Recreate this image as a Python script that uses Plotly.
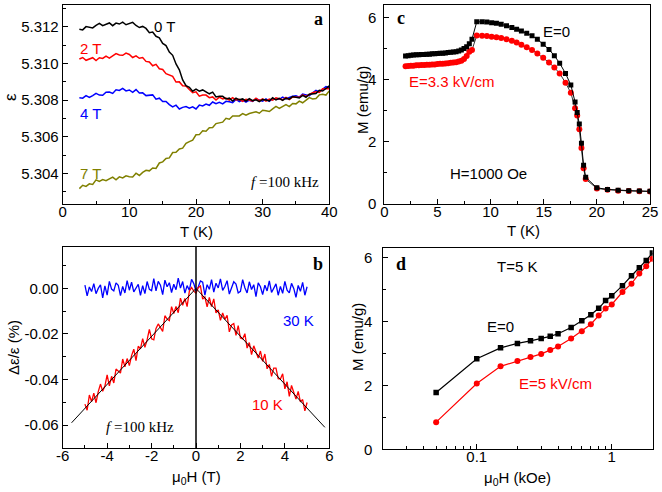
import plotly.graph_objects as go
from plotly.subplots import make_subplots

# ---- (a) dielectric constant vs T at several fields ----
T_A = [2.5, 3.0, 3.5, 4.0, 4.5, 5.0, 5.5, 6.0, 6.5, 7.0,
       7.5, 8.0, 8.5, 9.0, 9.5, 10.0, 10.5, 11.0, 11.5, 12.0,
       12.5, 13.0, 13.5, 14.0, 14.5, 15.0, 15.5, 16.0, 16.5, 17.0,
       17.5, 18.0, 18.5, 19.0, 19.5, 20.0, 20.5, 21.0, 21.5, 22.0,
       22.5, 23.0, 23.5, 24.0, 24.5, 25.0, 25.5, 26.0, 26.5, 27.0,
       27.5, 28.0, 28.5, 29.0, 29.5, 30.0, 30.5, 31.0, 31.5, 32.0,
       32.5, 33.0, 33.5, 34.0, 34.5, 35.0, 35.5, 36.0, 36.5, 37.0,
       37.5, 38.0, 38.5, 39.0, 39.5, 40.0]
EPS_0T = [5.31188, 5.31184, 5.31202, 5.31200, 5.31195, 5.31209, 5.31220, 5.31207, 5.31214, 5.31222,
          5.31207, 5.31221, 5.31216, 5.31226, 5.31212, 5.31218, 5.31225, 5.31208, 5.31197, 5.31203,
          5.31192, 5.31169, 5.31172, 5.31149, 5.31141, 5.31110, 5.31098, 5.31063, 5.31045, 5.30998,
          5.30966, 5.30911, 5.30879, 5.30870, 5.30849, 5.30860, 5.30849, 5.30856, 5.30846, 5.30835,
          5.30844, 5.30818, 5.30822, 5.30821, 5.30807, 5.30811, 5.30795, 5.30811, 5.30802, 5.30807,
          5.30795, 5.30809, 5.30797, 5.30802, 5.30792, 5.30804, 5.30801, 5.30796, 5.30813, 5.30801,
          5.30810, 5.30799, 5.30811, 5.30806, 5.30820, 5.30815, 5.30812, 5.30826, 5.30816, 5.30833,
          5.30836, 5.30837, 5.30854, 5.30850, 5.30864, 5.30878]
EPS_2T = [5.31025, 5.31033, 5.31018, 5.31024, 5.31032, 5.31017, 5.31032, 5.31028, 5.31041, 5.31030,
          5.31041, 5.31055, 5.31047, 5.31045, 5.31057, 5.31050, 5.31033, 5.31042, 5.31029, 5.31033,
          5.31012, 5.31009, 5.30988, 5.30996, 5.30972, 5.30968, 5.30945, 5.30938, 5.30930, 5.30899,
          5.30900, 5.30879, 5.30877, 5.30858, 5.30841, 5.30846, 5.30822, 5.30828, 5.30828, 5.30814,
          5.30818, 5.30801, 5.30817, 5.30807, 5.30812, 5.30800, 5.30814, 5.30801, 5.30805, 5.30794,
          5.30805, 5.30801, 5.30795, 5.30811, 5.30798, 5.30807, 5.30795, 5.30806, 5.30800, 5.30813,
          5.30806, 5.30802, 5.30815, 5.30803, 5.30818, 5.30818, 5.30816, 5.30829, 5.30821, 5.30831,
          5.30841, 5.30846, 5.30842, 5.30862, 5.30863, 5.30863]
EPS_4T = [5.30813, 5.30811, 5.30825, 5.30815, 5.30825, 5.30837, 5.30828, 5.30827, 5.30844, 5.30845,
          5.30837, 5.30857, 5.30853, 5.30864, 5.30851, 5.30856, 5.30843, 5.30858, 5.30839, 5.30840,
          5.30825, 5.30827, 5.30829, 5.30806, 5.30811, 5.30793, 5.30793, 5.30776, 5.30763, 5.30773,
          5.30752, 5.30761, 5.30765, 5.30756, 5.30764, 5.30752, 5.30773, 5.30769, 5.30779, 5.30772,
          5.30790, 5.30781, 5.30788, 5.30780, 5.30794, 5.30792, 5.30787, 5.30804, 5.30792, 5.30801,
          5.30789, 5.30800, 5.30794, 5.30807, 5.30800, 5.30795, 5.30807, 5.30794, 5.30808, 5.30808,
          5.30805, 5.30817, 5.30807, 5.30815, 5.30822, 5.30824, 5.30817, 5.30833, 5.30830, 5.30825,
          5.30840, 5.30854, 5.30845, 5.30858, 5.30874, 5.30869]
EPS_7T = [5.30317, 5.30335, 5.30329, 5.30343, 5.30340, 5.30365, 5.30356, 5.30366, 5.30360, 5.30370,
          5.30380, 5.30365, 5.30381, 5.30375, 5.30387, 5.30382, 5.30381, 5.30401, 5.30389, 5.30406,
          5.30417, 5.30414, 5.30430, 5.30427, 5.30457, 5.30463, 5.30482, 5.30485, 5.30514, 5.30515,
          5.30534, 5.30538, 5.30564, 5.30574, 5.30582, 5.30611, 5.30612, 5.30633, 5.30630, 5.30649,
          5.30651, 5.30672, 5.30675, 5.30680, 5.30701, 5.30696, 5.30714, 5.30716, 5.30714, 5.30727,
          5.30718, 5.30727, 5.30734, 5.30737, 5.30729, 5.30745, 5.30742, 5.30738, 5.30753, 5.30766,
          5.30755, 5.30765, 5.30776, 5.30765, 5.30782, 5.30780, 5.30795, 5.30786, 5.30799, 5.30814,
          5.30807, 5.30809, 5.30829, 5.30833, 5.30828, 5.30851]

# ---- (b) magnetodielectric effect, d(eps)/eps in % ----
H_B = [-5.0, -4.9, -4.8, -4.7, -4.6, -4.5, -4.4, -4.3, -4.2, -4.1,
       -4.0, -3.9, -3.8, -3.7, -3.6, -3.5, -3.4, -3.3, -3.2, -3.1,
       -3.0, -2.9, -2.8, -2.7, -2.6, -2.5, -2.4, -2.3, -2.2, -2.1,
       -2.0, -1.9, -1.8, -1.7, -1.6, -1.5, -1.4, -1.3, -1.2, -1.1,
       -1.0, -0.9, -0.8, -0.7, -0.6, -0.5, -0.4, -0.3, -0.2, -0.1,
       0.0, 0.1, 0.2, 0.3, 0.4, 0.5, 0.6, 0.7, 0.8, 0.9,
       1.0, 1.1, 1.2, 1.3, 1.4, 1.5, 1.6, 1.7, 1.8, 1.9,
       2.0, 2.1, 2.2, 2.3, 2.4, 2.5, 2.6, 2.7, 2.8, 2.9,
       3.0, 3.1, 3.2, 3.3, 3.4, 3.5, 3.6, 3.7, 3.8, 3.9,
       4.0, 4.1, 4.2, 4.3, 4.4, 4.5, 4.6, 4.7, 4.8, 4.9,
       5.0]
D_30K = [0.0014, -0.0033, 0.0006, -0.0014, 0.0021, -0.0023, 0.0000, 0.0016, -0.0042, 0.0011,
         -0.0030, 0.0031, -0.0003, -0.0011, 0.0024, 0.0014, -0.0032, 0.0009, -0.0020, 0.0034,
         -0.0008, 0.0027, -0.0015, 0.0001, 0.0018, -0.0031, 0.0012, -0.0023, 0.0030, -0.0004,
         -0.0010, 0.0043, -0.0011, 0.0031, 0.0014, -0.0027, 0.0036, 0.0007, 0.0025, -0.0018,
         0.0018, -0.0006, 0.0045, 0.0001, 0.0030, -0.0021, 0.0012, -0.0008, 0.0040, 0.0021,
         -0.0013, 0.0006, 0.0033, 0.0027, -0.0030, 0.0016, -0.0004, 0.0038, -0.0016, 0.0023,
         0.0002, 0.0042, -0.0009, 0.0008, 0.0034, -0.0025, -0.0001, 0.0029, 0.0019, -0.0020,
         -0.0013, 0.0038, 0.0003, -0.0020, 0.0029, -0.0005, 0.0016, -0.0036, 0.0024, 0.0007,
         -0.0027, 0.0014, -0.0011, 0.0033, -0.0018, 0.0002, 0.0020, -0.0030, 0.0009, -0.0022,
         0.0031, -0.0008, -0.0020, 0.0022, 0.0000, -0.0039, 0.0013, -0.0013, 0.0026, -0.0030,
         0.0007]
D_10K = [-0.0508, -0.0535, -0.0468, -0.0497, -0.0460, -0.0502, -0.0453, -0.0420, -0.0452, -0.0429,
         -0.0380, -0.0428, -0.0386, -0.0415, -0.0354, -0.0362, -0.0372, -0.0310, -0.0344, -0.0308,
         -0.0339, -0.0295, -0.0267, -0.0317, -0.0254, -0.0265, -0.0221, -0.0259, -0.0226, -0.0180,
         -0.0221, -0.0226, -0.0176, -0.0156, -0.0175, -0.0189, -0.0120, -0.0135, -0.0142, -0.0080,
         -0.0110, -0.0079, -0.0107, -0.0043, -0.0074, -0.0044, -0.0080, -0.0012, 0.0004, -0.0012,
         -0.0021, 0.0003, 0.0011, -0.0047, -0.0038, -0.0081, -0.0040, -0.0080, -0.0046, -0.0108,
         -0.0094, -0.0140, -0.0108, -0.0136, -0.0118, -0.0191, -0.0160, -0.0154, -0.0206, -0.0163,
         -0.0218, -0.0222, -0.0199, -0.0262, -0.0238, -0.0291, -0.0252, -0.0280, -0.0306, -0.0275,
         -0.0320, -0.0288, -0.0353, -0.0334, -0.0386, -0.0350, -0.0350, -0.0396, -0.0398, -0.0375,
         -0.0441, -0.0410, -0.0474, -0.0426, -0.0453, -0.0486, -0.0452, -0.0498, -0.0488, -0.0538,
         -0.0501]
FIT_H = [-5.6, 0.0, 5.8]
FIT_D = [-0.0590, 0.0, -0.0610]

# ---- (c) M vs T at H=1000 Oe ----
T_C = [2.0, 2.25, 2.5, 2.75, 3.0, 3.25, 3.5, 3.75, 4.0, 4.25, 4.5, 4.75, 5.0,
       5.25, 5.5, 5.75, 6.0, 6.25, 6.5, 6.75, 7.0, 7.25, 7.5, 7.75, 8.0, 8.25,
       8.7, 9.2, 9.65, 10.1, 10.55, 11.0, 11.5, 12.0, 12.45, 12.9, 13.4, 13.9,
       14.4, 14.95, 15.5, 16.0, 16.5, 17.05, 17.55, 17.95, 18.15, 18.35, 18.55,
       18.75, 18.95, 20.0, 21.0, 22.0, 23.0, 24.0, 25.0]
M_C_E0 = [4.76, 4.77, 4.78, 4.79, 4.80, 4.80, 4.81, 4.81, 4.82, 4.82, 4.83, 4.83, 4.84,
          4.85, 4.85, 4.86, 4.87, 4.88, 4.89, 4.90, 4.92, 4.95, 5.00, 5.06, 5.15, 5.30,
          5.86, 5.86, 5.85, 5.83, 5.81, 5.78, 5.73, 5.68, 5.62, 5.56, 5.49, 5.41,
          5.30, 5.14, 4.97, 4.77, 4.53, 4.20, 3.83, 3.28, 2.94, 2.57, 1.95,
          1.25, 0.86, 0.52, 0.47, 0.44, 0.43, 0.42, 0.41]
M_C_E33 = [4.43, 4.44, 4.45, 4.45, 4.46, 4.46, 4.47, 4.47, 4.48, 4.48, 4.49, 4.49, 4.50,
           4.51, 4.51, 4.52, 4.53, 4.54, 4.55, 4.56, 4.58, 4.61, 4.66, 4.76, 4.90, 4.95,
           5.42, 5.41, 5.40, 5.38, 5.36, 5.34, 5.30, 5.25, 5.19, 5.12, 5.04, 4.95,
           4.84, 4.70, 4.55, 4.39, 4.20, 3.90, 3.58, 3.08, 2.85, 2.40, 1.80,
           1.15, 0.80, 0.50, 0.46, 0.43, 0.42, 0.41, 0.40]

# ---- (d) M vs H at T=5 K ----
H_D = [0.05, 0.1, 0.15, 0.2, 0.25, 0.3, 0.35, 0.4, 0.5, 0.6, 0.7, 0.8, 0.9, 1.0,
       1.2, 1.4, 1.6, 1.8, 2.0]
M_D_E0 = [1.78, 2.84, 3.18, 3.32, 3.40, 3.47, 3.54, 3.62, 3.82, 4.03, 4.22, 4.42, 4.66, 4.81,
          5.13, 5.44, 5.69, 5.92, 6.15]
M_D_E5 = [0.85, 2.06, 2.60, 2.77, 2.89, 2.99, 3.11, 3.22, 3.47, 3.70, 3.92, 4.19, 4.41, 4.54,
          4.93, 5.19, 5.51, 5.74, 5.97]

SANS = "Liberation Sans"
SERIF = "Liberation Serif"
RED = "#FF0000"
BLUE = "#0000FF"
OLIVE = "#808000"

W, H = 662, 492


def px_x(p):
    return p / W


def px_y(p):
    return 1 - p / H


def box_axis(**kw):
    """black frame, inward ticks on bottom/left only"""
    d = dict(showline=True, linecolor="black", linewidth=1, mirror=True,
             ticks="inside", ticklen=5, tickwidth=1, tickcolor="black",
             showgrid=False, zeroline=False, automargin=False,
             tickfont=dict(family=SANS, size=15, color="black"))
    d.update(kw)
    return d


def minor(**kw):
    d = dict(ticks="inside", ticklen=3, tickcolor="black", showgrid=False)
    d.update(kw)
    return d


fig = make_subplots(rows=2, cols=2)

# (a)
for y, c in [(EPS_7T, OLIVE), (EPS_4T, BLUE), (EPS_2T, RED), (EPS_0T, "black")]:
    fig.add_trace(go.Scatter(x=T_A, y=y, mode="lines", line=dict(color=c, width=1.5)), row=1, col=1)

# (b)
fig.add_trace(go.Scatter(x=H_B, y=D_30K, mode="lines", line=dict(color=BLUE, width=1.3)), row=2, col=1)
fig.add_trace(go.Scatter(x=H_B, y=D_10K, mode="lines", line=dict(color=RED, width=1.3)), row=2, col=1)
fig.add_trace(go.Scatter(x=FIT_H, y=FIT_D, mode="lines", line=dict(color="black", width=1)), row=2, col=1)
fig.add_vline(x=0, row=2, col=1, line=dict(color="black", width=1.5))

# (c)
fig.add_trace(go.Scatter(x=T_C, y=M_C_E33, mode="lines+markers",
                         line=dict(color="black", width=0.8),
                         marker=dict(symbol="circle", size=6, color=RED)), row=1, col=2)
fig.add_trace(go.Scatter(x=T_C, y=M_C_E0, mode="lines+markers",
                         line=dict(color="black", width=1),
                         marker=dict(symbol="square", size=5, color="black")), row=1, col=2)

# (d)
fig.add_trace(go.Scatter(x=H_D, y=M_D_E5, mode="lines+markers",
                         line=dict(color=RED, width=1.2),
                         marker=dict(symbol="circle", size=6, color=RED)), row=2, col=2)
fig.add_trace(go.Scatter(x=H_D, y=M_D_E0, mode="lines+markers",
                         line=dict(color="black", width=1.2),
                         marker=dict(symbol="square", size=5.5, color="black")), row=2, col=2)

# axes: xaxis/yaxis = a, xaxis2 = c, xaxis3 = b, xaxis4 = d
XSTAND = -6
fig.update_layout(
    xaxis=box_axis(domain=[px_x(62.7), px_x(329.3)], range=[0, 40], dtick=10,
                   ticklabelstandoff=XSTAND, minor=minor(dtick=5)),
    yaxis=box_axis(domain=[px_y(204), px_y(5)], range=[5.30233, 5.3132], dtick=0.002,
                   tickformat=".3f", minor=minor(dtick=0.001)),
    xaxis3=box_axis(domain=[px_x(62.7), px_x(329.3)], range=[-6, 6],
                    tickvals=[-6, -4, -2, 0, 2, 4, 6],
                    ticktext=["-6", "-4", "-2", "0", "2", "4", "6"],
                    ticklabelstandoff=XSTAND, minor=minor(dtick=1)),
    yaxis3=box_axis(domain=[px_y(448.3), px_y(246.7)], range=[-0.0702, 0.0183],
                    tickvals=[-0.06, -0.04, -0.02, 0.0],
                    ticktext=["-0.06", "-0.04", "-0.02", "0.00"],
                    minor=minor(dtick=0.01)),
    xaxis2=box_axis(domain=[px_x(384.3), px_x(650)], range=[0, 25], dtick=5,
                    ticklabelstandoff=XSTAND, minor=minor(dtick=2.5)),
    yaxis2=box_axis(domain=[px_y(204), px_y(5)], range=[0, 6.4], dtick=2,
                    ticklabelstandoff=4, minor=minor(dtick=1)),
    xaxis4=box_axis(domain=[px_x(383.3), px_x(652.7)], type="log", range=[-1.6925, 0.3032],
                    tickvals=[0.1, 1], ticktext=["0.1", "1"], ticklabelstandoff=XSTAND,
                    minor=minor(tickmode="array",
                                tickvals=[0.03, 0.04, 0.05, 0.06, 0.07, 0.08, 0.09,
                                          0.2, 0.3, 0.4, 0.5, 0.6, 0.7, 0.8, 0.9, 2])),
    yaxis4=box_axis(domain=[px_y(449.3), px_y(248.3)], range=[0, 6.3], dtick=2,
                    ticklabelstandoff=7, minor=minor(dtick=1)),
)

ann = []


def label(text, x, y, xref, yref, color="black", size=15, family=SANS, angle=0):
    ann.append(dict(text=text, x=x, y=y, xref=xref, yref=yref, showarrow=False,
                    textangle=angle, xanchor="center", yanchor="middle",
                    font=dict(family=family, size=size, color=color)))


# axis titles
label("ε", px_x(10), px_y(97), "paper", "paper", size=17, angle=-90)
label("Δε/ε (%)", px_x(13), px_y(348), "paper", "paper", size=15, angle=-90)
label("M (emu/g)", px_x(362), px_y(100), "paper", "paper", size=15, angle=-90)
label("M (emu/g)", px_x(357), px_y(337), "paper", "paper", size=15, angle=-90)
label("T (K)", px_x(196.7), px_y(231), "paper", "paper")
label("μ<sub>0</sub>H (T)", px_x(196.7), px_y(477), "paper", "paper")
label("T (K)", px_x(523), px_y(230), "paper", "paper")
label("μ<sub>0</sub>H (kOe)", px_x(517), px_y(478), "paper", "paper")

# panel letters
label("<b>a</b>", px_x(318), px_y(19.3), "paper", "paper", size=18, family=SERIF)
label("<b>b</b>", px_x(318.3), px_y(264), "paper", "paper", size=18, family=SERIF)
label("<b>c</b>", px_x(400.7), px_y(18.3), "paper", "paper", size=18, family=SERIF)
label("<b>d</b>", px_x(400.7), px_y(264.3), "paper", "paper", size=18, family=SERIF)

# in-plot labels
label("0 T", 15.3, 5.3120, "x", "y")
label("2 T", 4.2, 5.3108, "x", "y", color=RED)
label("4 T", 4.2, 5.3073, "x", "y", color=BLUE)
label("7 T", 4.2, 5.3040, "x", "y", color=OLIVE)
label("<i>f</i> =100 kHz", 33.3, 5.30355, "x", "y", size=15, family=SERIF)

label("30 K", 4.6, -0.0139, "x3", "y3", color=BLUE)
label("10 K", 3.2, -0.0508, "x3", "y3", color=RED)
label("<i>f</i> =100 kHz", -2.5, -0.0607, "x3", "y3", size=15, family=SERIF)

label("E=0", 16.2, 5.54, "x2", "y2")
label("E=3.3 kV/cm", 6.3, 3.95, "x2", "y2", color=RED)
label("H=1000 Oe", 9.8, 0.99, "x2", "y2")

label("T=5 K", -0.704, 5.72, "x4", "y4")
label("E=0", -0.827, 3.85, "x4", "y4")
label("E=5 kV/cm", -0.418, 2.07, "x4", "y4", color=RED)

fig.update_layout(
    width=W, height=H,
    margin=dict(l=0, r=0, t=0, b=0),
    paper_bgcolor="white", plot_bgcolor="white",
    showlegend=False,
    font=dict(family=SANS, size=15, color="black"),
    annotations=ann,
)

# page body has a default 8px margin; drop it so the figure fills the window
fig.write_html("out.html", config=dict(displayModeBar=False),
               post_script="document.body.style.margin='0';")
